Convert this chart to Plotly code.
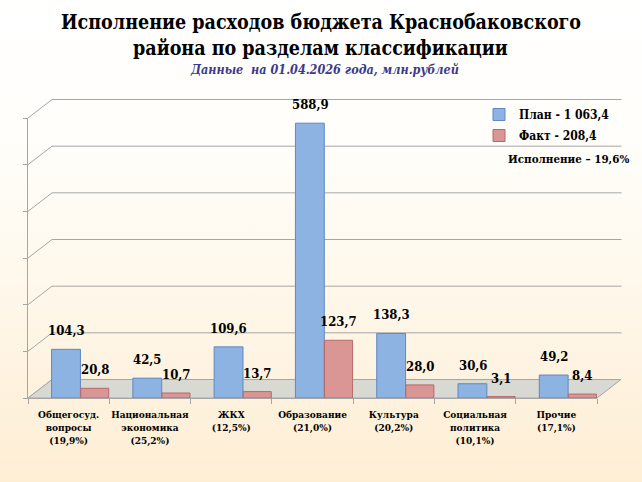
import base64
import plotly.graph_objects as go

# Данные (млн. рублей)
categories = [
    "Общегосуд.<br>вопросы<br>(19,9%)",
    "Национальная<br>экономика<br>(25,2%)",
    "ЖКХ<br>(12,5%)",
    "Образование<br>(21,0%)",
    "Культура<br>(20,2%)",
    "Социальная<br>политика<br>(10,1%)",
    "Прочие<br>(17,1%)",
]
plan = [104.3, 42.5, 109.6, 588.9, 138.3, 30.6, 49.2]
fact = [20.8, 10.7, 13.7, 123.7, 28.0, 3.1, 8.4]
y_ticks = [0, 100, 200, 300, 400, 500, 600]

plan_name = "План - 1 063,4"
fact_name = "Факт - 208,4"
execution_text = "Исполнение – 19,6%"
title_lines = ["Исполнение расходов бюджета Краснобаковского",
               "района по разделам классификации"]
subtitle = "Данные  на 01.04.2026 года, млн.рублей"

# Геометрия области построения (пиксели)
W_FIG, H_FIG = 642, 482
L, R, T, B = 28, 597, 118, 398
W, H = R - L, B - T
DX, DY = 24, 18.5  # сдвиг задней стенки (псевдо-3D)


def px(x):
    return (x - L) / W


def py(y):
    return (B - y) / H


SERIF = '"DejaVu Serif Condensed", "DejaVu Serif", serif'

fig = go.Figure()

fig.add_trace(go.Bar(
    x=categories, y=plan, name=plan_name,
    marker=dict(color="#8DB3E2", line=dict(color="#5F88C4", width=1)),
    offset=-0.21, width=0.355, legendgroup="p",
    hoverinfo="x+y",
))
fig.add_trace(go.Bar(
    x=categories, y=fact, name=fact_name,
    marker=dict(color="#DA9694", line=dict(color="#B56A69", width=1)),
    offset=0.148, width=0.345, legendgroup="f",
    hoverinfo="x+y",
))

# Подписи значений
annotations = []
for cat, v in zip(categories, plan):
    annotations.append(dict(
        x=cat, y=v, text=f"<b>{v:.1f}</b>".replace(".", ","), showarrow=False,
        yanchor="bottom", xshift=-2.5, yshift=9,
        font=dict(family=SERIF, size=13, color="black"),
    ))
for cat, v in zip(categories, fact):
    annotations.append(dict(
        x=cat, y=v, text=f"<b>{v:.1f}</b>".replace(".", ","), showarrow=False,
        yanchor="bottom", xshift=26, yshift=9,
        font=dict(family=SERIF, size=13, color="black"),
    ))

# Заголовок
for text, ypix in zip(title_lines, [22, 48]):
    annotations.append(dict(
        xref="paper", yref="paper", x=px(W_FIG / 2), y=py(ypix),
        text=f"<b>{text}</b>", showarrow=False,
        xanchor="center", yanchor="middle",
        font=dict(family=SERIF, size=19.5, color="black"),
    ))
annotations.append(dict(
    xref="paper", yref="paper", x=px(324), y=py(70),
    text=f"<b><i>{subtitle}</i></b>", showarrow=False,
    xanchor="center", yanchor="middle",
    font=dict(family=SERIF, size=12.5, color="#3C3A8A"),
))
annotations.append(dict(
    xref="paper", yref="paper", x=px(568), y=py(159),
    text=f"<b>{execution_text}</b>", showarrow=False,
    xanchor="center", yanchor="middle",
    font=dict(family=SERIF, size=11.5, color="black"),
))

# Псевдо-3D: задняя стенка, пол
shapes = []
grid_col = "#A6A6A6"
for v in y_ticks:
    yf = B - v * H / 600
    yb = yf - DY
    shapes.append(dict(type="line", xref="paper", yref="paper", layer="below",
                       x0=px(L), y0=py(yf), x1=px(L + DX), y1=py(yb),
                       line=dict(color=grid_col, width=1)))
    if v == 0:
        shapes.append(dict(
            type="path", xref="paper", yref="paper", layer="below",
            path=(f"M {px(L)} {py(B)} L {px(L + DX)} {py(B - DY)} "
                  f"L {px(R + DX)} {py(B - DY)} L {px(R)} {py(B)} Z"),
            fillcolor="#D9D9D4", line=dict(color=grid_col, width=1)))
    else:
        shapes.append(dict(type="line", xref="paper", yref="paper", layer="below",
                           x0=px(L + DX), y0=py(yb), x1=px(R + DX + 0.5), y1=py(yb),
                           line=dict(color=grid_col, width=1)))

# Фон с градиентом
svg = ('<svg xmlns="http://www.w3.org/2000/svg" width="10" height="100" '
       'preserveAspectRatio="none"><defs><linearGradient id="g" x1="0" y1="0" '
       'x2="0" y2="1"><stop offset="0" stop-color="#FFFFFF"/>'
       '<stop offset="0.35" stop-color="#FFFDF8"/>'
       '<stop offset="1" stop-color="#FEEED4"/></linearGradient></defs>'
       '<rect width="10" height="100" fill="url(#g)"/></svg>')
bg_src = "data:image/svg+xml;base64," + base64.b64encode(svg.encode()).decode()

fig.update_layout(
    width=W_FIG, height=H_FIG,
    margin=dict(l=L, r=W_FIG - R, t=T, b=H_FIG - B, pad=0),
    paper_bgcolor="#FFF7EA",
    plot_bgcolor="rgba(0,0,0,0)",
    barmode="group",
    showlegend=True,
    legend=dict(
        x=px(479), y=py(100), xanchor="left", yanchor="top",
        bgcolor="rgba(0,0,0,0)", tracegroupgap=2, itemwidth=30,
        font=dict(family=SERIF, size=12, color="black", weight="bold"),
    ),
    xaxis=dict(
        type="category", range=[-0.5, 6.5], tickangle=0,
        showline=True, linecolor=grid_col, linewidth=1,
        ticks="outside", tickson="boundaries", ticklen=5, tickcolor=grid_col,
        ticklabelstandoff=7,
        tickfont=dict(family=SERIF, size=10, color="black", weight="bold"),
        showgrid=False,
    ),
    yaxis=dict(
        range=[0, 600], tickvals=y_ticks, showticklabels=False,
        showline=True, linecolor=grid_col, linewidth=1,
        ticks="outside", ticklen=4, tickcolor=grid_col,
        showgrid=False, zeroline=False,
    ),
    annotations=annotations,
    shapes=shapes,
    images=[dict(
        source=bg_src, xref="paper", yref="paper",
        x=px(0), y=py(0), sizex=W_FIG / W, sizey=H_FIG / H,
        xanchor="left", yanchor="top", sizing="stretch", layer="below",
    )],
)

fig.write_html("out.html", config={"displayModeBar": False},
               post_script="document.body.style.margin = '0';")
